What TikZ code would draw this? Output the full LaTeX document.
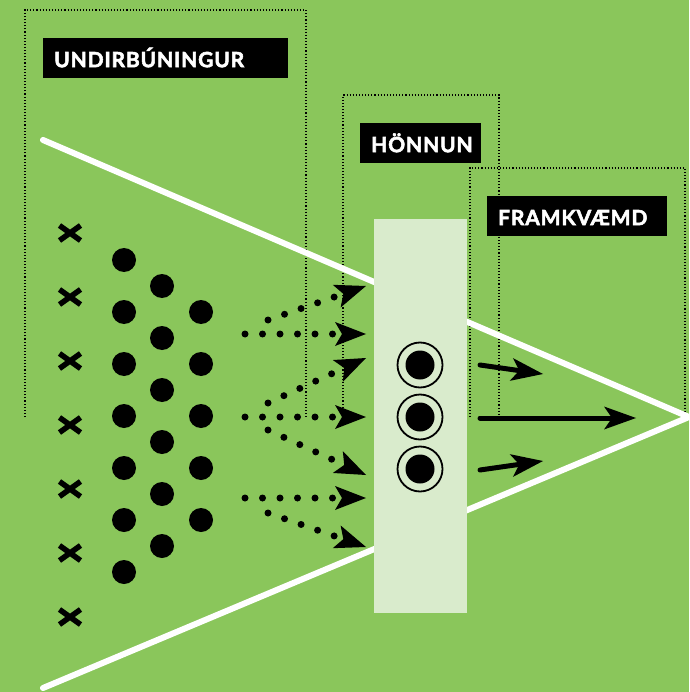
\documentclass[tikz,border=0pt]{standalone}
\usepackage{fontspec}
\newfontfamily\tagfont[LetterSpace=4,BoldFeatures={FakeBold=2.5}]{Lato}
\usetikzlibrary{arrows.meta}
\definecolor{fieldgreen}{RGB}{138,198,91}
\definecolor{paleplan}{RGB}{217,235,204}

\begin{document}
\begin{tikzpicture}[x=1pt,y=-1pt,
    phase/.style={line width=1.1pt,dash pattern=on 1.1pt off 2pt},
    tag/.style={fill=black,text=white,font=\tagfont\bfseries\fontsize{21}{21}\selectfont,anchor=north west,
        minimum height=40pt,inner xsep=11pt,inner ysep=0pt,align=left,text height=18pt,text depth=0pt},
    side/.style={white,line width=6pt,line cap=round},
    cross/.style={line width=5.5pt},
    player/.style={circle,fill=black,inner sep=0pt,minimum size=24pt},
    target/.style={circle,draw=black,line width=1.8pt,minimum size=45pt,inner sep=0pt},
    dotarrow/.style={line width=7pt,line cap=round,dash pattern=on 0pt off 17.5pt,
        -{Stealth[length=31pt,width=24pt,inset=7pt,line width=0pt]}},
    bigarrow/.style={line width=5pt,line cap=round,
        -{Stealth[length=32pt,width=23pt,inset=8pt,line width=0pt]}}]
    \useasboundingbox (0,0) rectangle (689,692);
    \fill[fieldgreen] (0,0) rectangle (689,692);

    % the three phases
    \draw[phase] (25,417) -- (25,10) -- (306,10) -- (306,417);
    \draw[phase] (343,417) -- (343,95) -- (499,95) -- (499,417);
    \draw[phase] (470,417) -- (470,168) -- (685,168) -- (685,417);

    \draw[side] (43,140) -- (689,417) -- (43,688);
    \node[fill=paleplan,minimum width=93pt,minimum height=394pt,inner sep=0pt,anchor=north west] (plan) at (374,219) {};

    \node[tag,text width=223pt] (undir) at (43,38) {UNDIRBÚNINGUR};
    \node[tag,text width=99pt] (honnun) at (360,123) {HÖNNUN};
    \node[tag,text width=158pt] (framk) at (487,196) {FRAMKVÆMD};

    % ideas
    \foreach \y in {233,297,...,617}
        \draw[cross] (59.5,{\y-7.5}) -- (80.5,{\y+7.5}) (59.5,{\y+7.5}) -- (80.5,{\y-7.5});
    \foreach \y [count=\i] in {260,312,...,572}
        \node[player] (a\i) at (124,\y) {};
    \foreach \y [count=\i] in {286,338,...,546}
        \node[player] (b\i) at (162,\y) {};
    \foreach \y [count=\i] in {312,364,...,520}
        \node[player] (c\i) at (201,\y) {};

    % towards the plan
    \coordinate (s1) at (245,334);  \coordinate (e1) at (366,334);
    \coordinate (u1) at (268,320);  \coordinate (f1) at (366,286);
    \coordinate (s2) at (245,417);  \coordinate (e2) at (366,417);
    \coordinate (u2) at (268,403);  \coordinate (f2) at (366,358);
    \coordinate (d2) at (268,430);  \coordinate (g2) at (366,475);
    \coordinate (s3) at (245,498);  \coordinate (e3) at (366,498);
    \coordinate (d3) at (268,513);  \coordinate (g3) at (366,547);
    \draw[dotarrow] (s1) -- (e1);
    \draw[dotarrow] (u1) -- (f1);
    \draw[dotarrow] (s2) -- (e2);
    \draw[dotarrow] (u2) -- (f2);
    \draw[dotarrow] (d2) -- (g2);
    \draw[dotarrow] (s3) -- (e3);
    \draw[dotarrow] (d3) -- (g3);

    % chosen ones
    \foreach \y [count=\i] in {365,417,469} {
        \node[target] (t\i) at (420,\y) {};
        \fill (t\i) circle (14.5);
    }
    \coordinate (o1) at (480,365);  \coordinate (p1) at (543,374);
    \coordinate (o2) at (480,418);  \coordinate (p2) at (636,418);
    \coordinate (o3) at (480,470);  \coordinate (p3) at (543,461);
    \draw[bigarrow] (o1) -- (p1);
    \draw[bigarrow] (o2) -- (p2);
    \draw[bigarrow] (o3) -- (p3);
\end{tikzpicture}
\end{document}
